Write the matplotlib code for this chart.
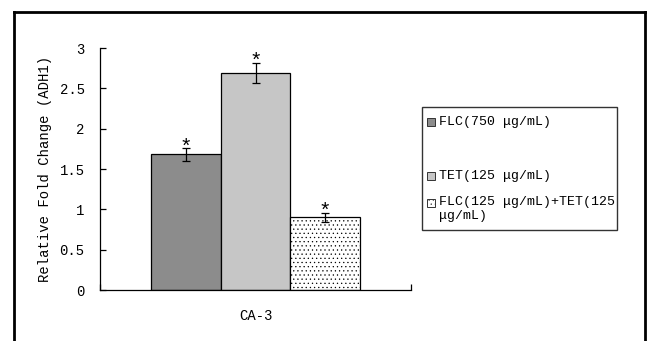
import matplotlib
matplotlib.use("Agg")
import matplotlib.pyplot as plt
from matplotlib.patches import Rectangle
from matplotlib.lines import Line2D

plt.rcParams["font.family"] = ["Liberation Mono", "DejaVu Sans"]
plt.rcParams["hatch.color"] = "#8a8a8a"
plt.rcParams["hatch.linewidth"] = 0.4

# ---- data ----
group = "CA-3"
labels = ["FLC(750 μg/mL)", "TET(125 μg/mL)",
          "FLC(125 μg/mL)+TET(125\nμg/mL)"]
values = [1.68, 2.69, 0.90]
errors = [0.08, 0.13, 0.055]
stars = ["*", "*", "*"]

colors = ["#8c8c8c", "#c6c6c6", "#ffffff"]
hatches = [None, None, "...."]

fig = plt.figure(figsize=(6.51, 3.41), dpi=100)
ax = fig.add_axes([100 / 651, 1 - 290 / 341, 311 / 651, 242 / 341])

width = 0.2235
offsets = [-width, 0.0, width]
for v, e, off, c, h, s in zip(values, errors, offsets, colors, hatches, stars):
    ax.bar(off, v, width=width, color=c, edgecolor="black", linewidth=0.9,
           hatch=h, zorder=2)
    ax.errorbar(off, v, yerr=e, fmt="none", ecolor="black", elinewidth=0.9,
                capsize=3, capthick=0.9, zorder=3)
    ax.annotate(s, (off, v + e), xytext=(0, -6), textcoords="offset points",
                ha="center", va="bottom", fontsize=15)

ax.set_xlim(-0.5, 0.5)
ax.set_ylim(0, 3)
ax.set_yticks([0, 0.5, 1, 1.5, 2, 2.5, 3])
ax.set_yticklabels(["0", "0.5", "1", "1.5", "2", "2.5", "3"])
ax.set_xticks([-0.5, 0.5])
ax.set_xticklabels(["", ""])
ax.tick_params(axis="both", direction="in", length=4, width=0.9,
               labelsize=10, pad=11)
ax.text(0, -0.32, group, ha="center", va="center", fontsize=10)
for side in ["top", "right"]:
    ax.spines[side].set_visible(False)
for side in ["left", "bottom"]:
    ax.spines[side].set_linewidth(0.9)
ax.set_ylabel("Relative Fold Change (ADH1)", fontsize=10)
ax.yaxis.set_label_coords(-0.154, 0.5)

# ---- legend drawn as a box at the right ----
W, H = 651.0, 341.0
fig.add_artist(Rectangle((422 / W, 1 - 230 / H), 195 / W, 123 / H,
                         transform=fig.transFigure, fill=False,
                         edgecolor="#333333", linewidth=1.0))
ys = [122, 176, 203]
for y, lab, c, h in zip(ys, labels, colors, hatches):
    fig.add_artist(Rectangle((427 / W, 1 - (y + 4) / H), 8 / W, 8 / H,
                             transform=fig.transFigure, facecolor=c,
                             edgecolor="#333333", linewidth=0.7, hatch=h))
    if "\n" in lab:
        fig.text(439 / W, 1 - (y - 7) / H, lab, ha="left", va="top",
                 fontsize=9.5, linespacing=1.2)
    else:
        fig.text(439 / W, 1 - y / H, lab, ha="left", va="center",
                 fontsize=9.5)

# ---- outer frame ----
for xs, yv in [([14, 14], [341, 12]), ([14, 645], [12, 12]),
               ([645, 645], [12, 341])]:
    fig.add_artist(Line2D([x / W for x in xs], [1 - y / H for y in yv],
                          transform=fig.transFigure, color="black",
                          linewidth=2))

fig.savefig("out.png", dpi=100)
